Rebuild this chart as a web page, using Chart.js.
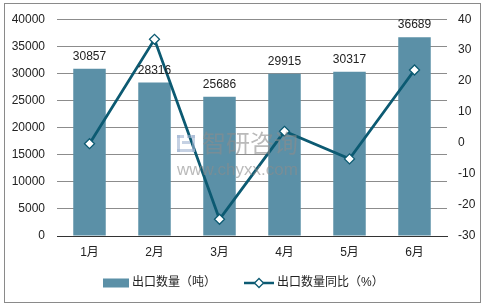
<!DOCTYPE html>
<html>
<head>
<meta charset="utf-8">
<script src="https://cdn.jsdelivr.net/npm/chart.js@4/dist/chart.umd.min.js"></script>
<style>
    html, body { margin: 0; padding: 0; background: #fff; }
    #wrap { width: 487px; height: 307px; position: relative; }
</style>
</head>
<body>
<div id="wrap"><canvas id="exportChart"></canvas></div>
<script>
// Chart data
const months = ["1月", "2月", "3月", "4月", "5月", "6月"];
const exportQty = [30857, 28316, 25686, 29915, 30317, 36689];
const exportYoY = [-0.2, 33.5, -24.6, 3.8, -5.1, 23.6];
const leftTicks = [0, 5000, 10000, 15000, 20000, 25000, 30000, 35000, 40000];
const rightTicks = [-30, -20, -10, 0, 10, 20, 30, 40];

const BAR_COLOR = "#5b90a7";
const LINE_COLOR = "#0c5a72";
const FONT = "'Liberation Sans', Arial, 'Noto Sans CJK SC', sans-serif";

// Frame + background
const framePlugin = {
    id: "frame",
    beforeDraw(chart) {
        const ctx = chart.ctx;
        ctx.save();
        ctx.fillStyle = "#fff";
        ctx.fillRect(0, 0, chart.width, chart.height);
        ctx.strokeStyle = "#8a8a8a";
        ctx.lineWidth = 1;
        ctx.strokeRect(4.5, 3.5, 476, 299);
        ctx.restore();
    },
};

// Value labels above bars
const barLabels = {
    id: "barLabels",
    afterDatasetsDraw(chart) {
        const ctx = chart.ctx;
        const meta = chart.getDatasetMeta(0);
        ctx.save();
        ctx.font = "12px " + FONT;
        ctx.fillStyle = "#222";
        ctx.textAlign = "center";
        ctx.textBaseline = "alphabetic";
        meta.data.forEach((bar, i) => {
            ctx.fillText(String(exportQty[i]), bar.x, bar.y - 9);
        });
        ctx.restore();
    },
};

// Legend at the bottom: bar swatch, line swatch with diamond
const bottomLegend = {
    id: "bottomLegend",
    afterDraw(chart) {
        const ctx = chart.ctx;
        const y = 283;
        const gap = 3;
        const itemGap = 28;
        const swW = [26, 30];
        ctx.save();
        ctx.font = "12px " + FONT;
        const labels = chart.data.datasets.map((ds) => ds.label);
        const widths = labels.map((t) => ctx.measureText(t).width);
        const total =
            swW[0] + gap + widths[0] + itemGap + swW[1] + gap + widths[1];
        let x = Math.round((chart.width - total) / 2);

        // bar item
        ctx.fillStyle = BAR_COLOR;
        ctx.fillRect(x, y - 4.5, swW[0], 9);
        x += swW[0] + gap;
        ctx.fillStyle = "#222";
        ctx.textBaseline = "middle";
        ctx.fillText(labels[0], x, y);
        x += widths[0] + itemGap;

        // line item
        ctx.strokeStyle = LINE_COLOR;
        ctx.lineWidth = 2.5;
        ctx.beginPath();
        ctx.moveTo(x, y);
        ctx.lineTo(x + swW[1], y);
        ctx.stroke();
        const cx = x + swW[1] / 2;
        ctx.beginPath();
        ctx.moveTo(cx, y - 4.5);
        ctx.lineTo(cx + 4.5, y);
        ctx.lineTo(cx, y + 4.5);
        ctx.lineTo(cx - 4.5, y);
        ctx.closePath();
        ctx.fillStyle = "#fff";
        ctx.fill();
        ctx.lineWidth = 1.3;
        ctx.stroke();
        x += swW[1] + gap;
        ctx.fillStyle = "#222";
        ctx.fillText(labels[1], x, y);
        ctx.restore();
    },
};

// Watermark
const watermark = {
    id: "watermark",
    afterDraw(chart) {
        const ctx = chart.ctx;
        ctx.save();
        ctx.globalAlpha = 0.6;
        // logo
        ctx.fillStyle = "#9fb3d1";
        ctx.fillRect(177, 135, 7, 3);
        ctx.fillRect(177, 135, 3, 17);
        ctx.fillRect(177, 149, 18, 3);
        ctx.fillRect(187, 135, 8, 3);
        ctx.fillRect(192, 135, 3, 17);
        ctx.fillRect(182, 141, 8, 3);
        ctx.fillStyle = "#8c8c8c";
        ctx.font = "24px 'Noto Sans CJK SC', sans-serif";
        ctx.textBaseline = "middle";
        ctx.fillText("智研咨询", 202, 143, 107);
        ctx.font = "17px " + FONT;
        ctx.fillText("www.chyxx.com", 177, 170, 133);
        ctx.restore();
    },
};

new Chart(document.getElementById("exportChart"), {
    type: "bar",
    data: {
        labels: months,
        datasets: [
            {
                type: "bar",
                label: "出口数量（吨）",
                data: exportQty,
                backgroundColor: BAR_COLOR,
                barPercentage: 0.5,
                categoryPercentage: 1,
                yAxisID: "y",
                order: 1,
            },
            {
                type: "line",
                label: "出口数量同比（%）",
                data: exportYoY,
                borderColor: LINE_COLOR,
                borderWidth: 2.8,
                pointStyle: "rectRot",
                pointRadius: 5,
                pointBackgroundColor: "#fff",
                pointBorderColor: LINE_COLOR,
                pointBorderWidth: 1.3,
                tension: 0,
                yAxisID: "y1",
                order: 0,
            },
        ],
    },
    options: {
        responsive: true,
        maintainAspectRatio: false,
        animation: false,
        layout: { padding: { top: 17, left: 0, right: 0, bottom: 40 } },
        plugins: {
            tooltip: { enabled: false },
            legend: { display: false },
        },
        scales: {
            x: {
                grid: { display: false, drawTicks: false },
                border: { display: true, color: "#333", width: 1 },
                ticks: {
                    color: "#222",
                    padding: 9,
                    font: { size: 12, family: FONT },
                },
                afterFit: (scale) => {
                    scale.height = 31;
                },
            },
            y: {
                position: "left",
                min: 0,
                max: 40000,
                afterBuildTicks: (scale) => {
                    scale.ticks = leftTicks.map((v) => ({ value: v }));
                },
                grid: { color: "#8c8c8c", drawTicks: false },
                border: { display: false },
                ticks: {
                    color: "#222",
                    padding: 12,
                    font: { size: 12, family: FONT },
                    callback: (v) => String(v),
                },
                afterFit: (scale) => {
                    scale.width = 57;
                },
            },
            y1: {
                position: "right",
                min: -30,
                max: 40,
                afterBuildTicks: (scale) => {
                    scale.ticks = rightTicks.map((v) => ({ value: v }));
                },
                grid: { display: false, drawTicks: false },
                border: { display: false },
                ticks: {
                    color: "#222",
                    padding: 11,
                    font: { size: 12, family: FONT },
                    callback: (v) => String(v),
                },
                afterFit: (scale) => {
                    scale.width = 40;
                },
            },
        },
    },
    plugins: [framePlugin, barLabels, bottomLegend, watermark],
});
</script>
</body>
</html>
